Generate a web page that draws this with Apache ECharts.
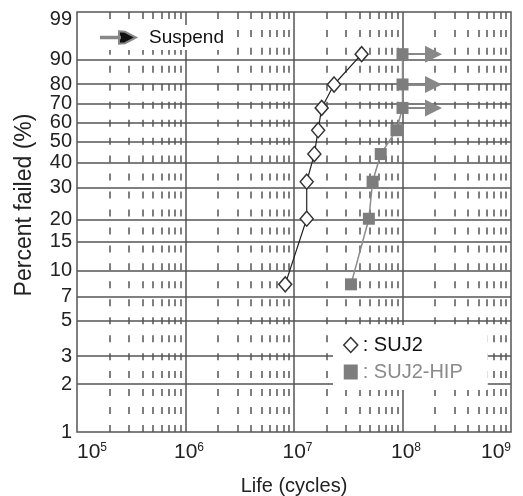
<!DOCTYPE html>
<html>
<head>
<meta charset="utf-8">
<script src="https://cdn.jsdelivr.net/npm/echarts@6/dist/echarts.min.js"></script>
<style>
  html, body { margin: 0; padding: 0; background: #fff; }
  #chart { width: 523px; height: 496px; }
</style>
</head>
<body>
<div id="chart"></div>
<script>
// Weibull paper: percent failed vs life (cycles)
const percentTicks = [1, 2, 3, 5, 7, 10, 15, 20, 30, 40, 50, 60, 70, 80, 90, 99];
const rankPercent = [8.3, 20.2, 32.1, 44.0, 56.0, 67.9, 79.8, 91.7]; // median ranks
const lifeSUJ2 = [8.3e6, 1.31e7, 1.31e7, 1.54e7, 1.67e7, 1.8e7, 2.34e7, 4.2e7];
const lifeHIP = [3.35e7, 4.9e7, 5.3e7, 6.3e7, 8.8e7, 1.0e8, 1.0e8, 1.0e8];
const suspendedHIP = [5, 6, 7]; // index of suspended tests
const suspendTo = 1.93e8;
const decades = [1e6, 1e7, 1e8];
const minorDecades = [1e5, 1e6, 1e7, 1e8];
const minorSteps = [2, 3, 4, 5, 6, 7, 8, 9];

const FONT = "'Liberation Sans', Arial, sans-serif";
const LINE = '#555';

const weibull = p => Math.log(-Math.log(1 - p / 100));
const toPercent = w => Math.round(100 * (1 - Math.exp(-Math.exp(w))));
const yMin = weibull(1);
const yMax = weibull(99);

// grid lines
const hLines = percentTicks.slice(1, -1).map(p => ({ yAxis: weibull(p) }));
const vLines = decades.map(x => [{ coord: [x, yMin] }, { coord: [x, yMax] }]);
const minorLines = [];
minorDecades.forEach(d => {
  minorSteps.forEach(s => {
    minorLines.push([{ coord: [d * s, yMin] }, { coord: [d * s, yMax] }]);
  });
});

const chart = echarts.init(document.getElementById('chart'));
chart.setOption({
  animation: false,
  textStyle: { fontFamily: FONT },
  grid: {
    left: 77, right: 12, top: 12, bottom: 64,
    outerBoundsMode: 'none',
    containLabel: false,
    show: true, borderColor: LINE, borderWidth: 1.5
  },
  xAxis: {
    type: 'log',
    logBase: 10,
    min: 1e5,
    max: 1e9,
    name: 'Life (cycles)',
    nameLocation: 'middle',
    nameGap: 44,
    nameTextStyle: { fontSize: 20, color: '#222', fontFamily: FONT },
    axisLine: { show: false },
    axisTick: { show: false },
    splitLine: { show: false },
    minorTick: { show: false },
    axisLabel: {
      margin: 10,
      color: '#222',
      fontSize: 21,
      alignMinLabel: 'left',
      alignMaxLabel: 'right',
      formatter: (v, i) => {
        const e = Math.round(Math.log10(v));
        const pad = (e === 5 || e === 9) ? '' : '{p|}';
        return pad + '10{s|' + e + '}';
      },
      rich: {
        p: { width: 7 },
        s: { fontSize: 12, verticalAlign: 'top', color: '#222' }
      }
    }
  },
  yAxis: {
    type: 'value',
    min: yMin,
    max: yMax,
    name: 'Percent failed (%)',
    nameLocation: 'middle',
    nameGap: 41,
    nameTextStyle: { fontSize: 23, color: '#222', fontFamily: FONT, padding: [0, 0, 0, 34] },
    axisLine: { show: false },
    axisTick: { show: false },
    splitLine: { show: false },
    axisLabel: {
      customValues: percentTicks.map(weibull),
      margin: 5,
      color: '#222',
      fontSize: 20,
      formatter: v => {
        const p = toPercent(v);
        return p === 99 ? '{t|99}' : String(p);
      },
      rich: { t: { fontSize: 20, color: '#222', padding: [14, 0, 0, 0] } }
    }
  },
  legend: [
    {
      left: 95, top: 25,
      z: 10,
      padding: [3, 6, 3, 5],
      backgroundColor: '#fff',
      selectedMode: false,
      itemWidth: 35, itemHeight: 12.5,
      textStyle: { fontSize: 19, color: '#111', padding: [0, 0, 0, 8] },
      data: [{
        name: 'Suspend',
        icon: 'path://M0,5.5L19,5.5L19,7L0,7Z M18,0L24,0.5L35,6.25L24,12L18,12.5Z',
        itemStyle: { color: '#111' }
      }]
    },
    {
      left: 333, top: 325,
      z: 10,
      orient: 'vertical',
      padding: [10, 25, 8, 10],
      itemGap: 7,
      itemWidth: 14, itemHeight: 15,
      backgroundColor: '#fff',
      selectedMode: false,
      formatter: ': {name}',
      textStyle: { fontSize: 20, color: '#111' },
      data: [
        { name: 'SUJ2', icon: 'diamond', itemStyle: { color: '#fff', borderColor: '#333', borderWidth: 1.5 } },
        { name: 'SUJ2-HIP', icon: 'rect', itemStyle: { color: '#7d7d7d' }, textStyle: { color: '#8a8a8a' } }
      ]
    }
  ],
  series: [
    {
      name: 'grid',
      type: 'line',
      data: [],
      z: 1,
      silent: true,
      markLine: {
        z: 1,
        silent: true,
        symbol: 'none',
        label: { show: false },
        emphasis: { disabled: true },
        data: [
          ...hLines.map(d => Object.assign(d, { lineStyle: { color: LINE, width: 1.5, type: 'solid' } })),
          ...vLines.map(d => { d[0].lineStyle = { color: LINE, width: 1.5, type: 'solid' }; return d; }),
          ...minorLines.map(d => { d[0].lineStyle = { color: LINE, width: 1.5, type: [7, 10.96] }; return d; })
        ]
      }
    },
    {
      name: 'Suspend',
      type: 'lines',
      coordinateSystem: 'cartesian2d',
      z: 4,
      symbol: ['none', 'triangle'],
      symbolSize: [13, 17],
      lineStyle: { color: '#888', width: 2, opacity: 1 },
      data: suspendedHIP.map(i => ({
        coords: [[lifeHIP[i], weibull(rankPercent[i])], [suspendTo, weibull(rankPercent[i])]]
      }))
    },
    {
      name: 'SUJ2-HIP',
      type: 'line',
      z: 5,
      symbol: 'rect',
      symbolSize: 12,
      itemStyle: { color: '#7d7d7d' },
      lineStyle: { color: '#8c8c8c', width: 1.5 },
      data: lifeHIP.map((x, i) => [x, weibull(rankPercent[i])])
    },
    {
      name: 'SUJ2',
      type: 'line',
      z: 6,
      symbol: 'diamond',
      symbolSize: [13, 15],
      itemStyle: { color: '#fff', borderColor: '#333', borderWidth: 1.5 },
      lineStyle: { color: '#222', width: 1.2 },
      data: lifeSUJ2.map((x, i) => [x, weibull(rankPercent[i])])
    }
  ]
});
</script>
</body>
</html>
